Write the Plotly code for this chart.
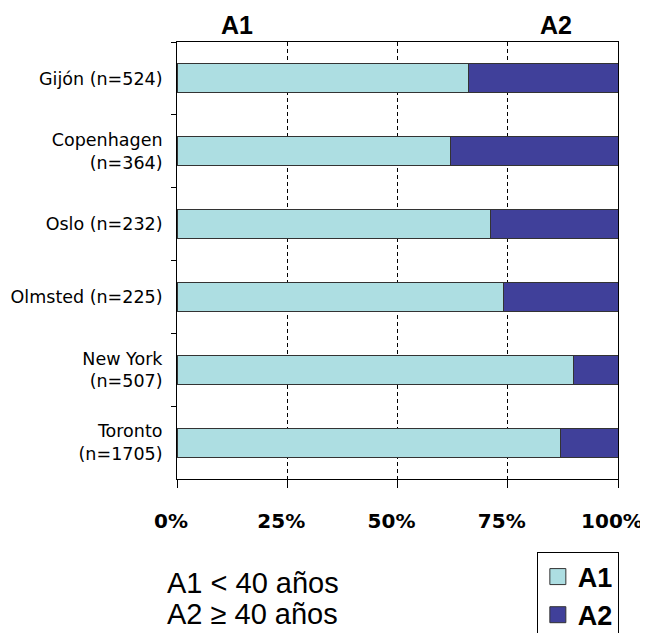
import plotly.graph_objects as go

categories = ["Gijón (n=524)", "Copenhagen<br>(n=364)", "Oslo (n=232)",
              "Olmsted (n=225)", "New York<br>(n=507)", "Toronto<br>(n=1705)"]
a1_values = [66, 62, 71, 74, 90, 87]
a2_values = [34, 38, 29, 26, 10, 13]
x_ticks = [0, 25, 50, 75, 100]
x_tick_labels = ["0%", "25%", "50%", "75%", "100%"]
series_names = ["A1", "A2"]
colors = ["#ADDEE2", "#40409A"]

fig = go.Figure()
for name, vals, col in zip(series_names, [a1_values, a2_values], colors):
    fig.add_trace(go.Bar(
        y=categories, x=vals, name=name, orientation="h",
        marker=dict(color=col, line=dict(color="#333333", width=1)),
        showlegend=False,
    ))
for name, col in zip(series_names, colors):
    fig.add_trace(go.Scatter(
        x=[None], y=[None], mode="markers", name=name,
        marker=dict(symbol="square", size=16, color=col,
                    line=dict(color="#333333", width=1)),
    ))

fig.update_layout(
    width=648, height=633,
    barmode="stack", bargap=0.6,
    plot_bgcolor="white", paper_bgcolor="white",
    margin=dict(l=169, r=38, t=34, b=162, autoexpand=False),
    font=dict(family="Liberation Sans, Arial, sans-serif", color="black"),
    legend=dict(
        x=0.816, y=-0.166, xanchor="left", yanchor="top", traceorder="normal",
        bordercolor="black", borderwidth=1, bgcolor="white",
        font=dict(family="Liberation Sans, Arial, sans-serif", size=27, color="black", weight="bold"),
    ),
    xaxis=dict(
        range=[0, 100], tickvals=x_ticks, ticktext=x_tick_labels,
        showline=True, linecolor="black", linewidth=1, mirror=True,
        ticks="outside", ticklen=8, tickcolor="black",
        showgrid=True, gridcolor="black", gridwidth=1, griddash="4px,3px",
        zeroline=False, automargin=False, ticklabeloverflow="allow",
        ticklabelshift=-6,
        tickfont=dict(family="DejaVu Sans", size=20, color="black", weight="bold"),
        ticklabelstandoff=16,
    ),
    yaxis=dict(
        categoryorder="array", categoryarray=categories, autorange="reversed",
        showline=True, linecolor="black", linewidth=1, mirror=True,
        ticks="outside", ticklen=5, tickcolor="black", tickson="boundaries",
        showgrid=False, zeroline=False, automargin=False,
        tickfont=dict(family="DejaVu Sans", size=17.5, color="black"),
        ticklabelstandoff=10,
    ),
)

fig.add_annotation(text="<b>A1</b>", x=0.136, y=1.039, xref="paper", yref="paper",
                   showarrow=False, xanchor="center", yanchor="middle",
                   font=dict(size=25, color="black"))
fig.add_annotation(text="<b>A2</b>", x=0.859, y=1.039, xref="paper", yref="paper",
                   showarrow=False, xanchor="center", yanchor="middle",
                   font=dict(size=25, color="black"))
fig.add_annotation(text="A1 < 40 años", x=-0.027, y=-0.238, xref="paper", yref="paper",
                   showarrow=False, xanchor="left", yanchor="middle",
                   font=dict(size=29, color="black"))
fig.add_annotation(text="A2 ≥ 40 años", x=-0.027, y=-0.309, xref="paper", yref="paper",
                   showarrow=False, xanchor="left", yanchor="middle",
                   font=dict(size=29, color="black"))

fig.write_html("out.html")
